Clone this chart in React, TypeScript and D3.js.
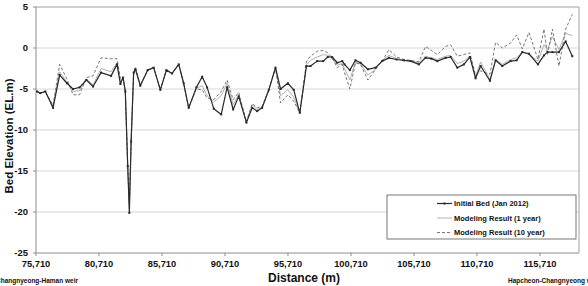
import React from "react";
import * as d3 from "d3";

const distance = [
  75790, 76050, 76450, 77060, 77590, 78170, 78650, 79170, 79710, 80240,
  80870, 81670, 82140, 82410, 82620, 82800, 82990, 83120, 83260, 83460,
  83600, 83990, 84570, 85050, 85580, 86060, 86510, 87040, 87430, 87830,
  88440, 88900, 89290, 89820, 90410, 90880, 91360, 91800, 92410, 92870,
  93260, 93660, 94190, 94720, 95120, 95700, 96170, 96650, 97180, 97500,
  98030, 98510, 98870, 99220, 99620, 100020, 100200, 100620, 101070, 101470,
  102050, 102660, 103190, 103720, 104330, 104910, 105440, 106100, 106630, 107090,
  107560, 108220, 108620, 109150, 109670, 110150, 110600, 111000, 111740, 112190,
  112720, 113380, 113860, 114310, 114840, 115550, 116030, 116310, 116700, 117220,
  117750, 118280,
];

const initialBed = [
  -5.3, -5.5, -5.3, -7.3, -3.3, -4.3, -5.0, -4.8, -3.9, -4.7,
  -3.0, -3.4, -2.0, -4.4, -3.6, -5.3, -14.4, -20.1, -11.4, -3.0,
  -2.6, -4.6, -2.7, -2.4, -5.1, -2.7, -3.1, -2.0, -4.3, -7.3,
  -4.8, -3.5, -4.8, -7.4, -8.1, -4.8, -7.5, -5.9, -9.1, -7.3,
  -7.7, -7.3, -5.1, -2.4, -5.0, -4.3, -5.1, -7.9, -2.2, -2.2,
  -1.6, -1.6, -1.1, -1.1, -1.8, -1.6, -2.0, -2.7, -1.5, -1.8,
  -2.6, -2.4, -1.6, -1.2, -1.4, -1.5, -1.6, -2.0, -1.2, -1.3,
  -1.6, -1.2, -1.1, -2.4, -2.0, -1.1, -3.7, -2.2, -4.0, -1.5,
  -2.2, -1.6, -1.5, -0.5, -0.7, -2.0, -0.9, -0.5, -0.5, -0.5,
  0.8, -1.0,
];

const model1yr = [
  -5.3, -5.5, -5.3, -7.1, -2.9, -4.2, -5.3, -5.2, -3.8, -4.5,
  -2.5, -2.9, -1.8, -4.1, -3.6, -5.3, -14.4, -19.6, -11.6, -3.0,
  -2.4, -4.5, -2.7, -2.4, -5.1, -2.7, -3.1, -2.0, -4.3, -7.3,
  -4.9, -4.6, -5.8, -6.6, -5.8, -4.3, -6.9, -5.7, -9.0, -6.9,
  -7.5, -7.2, -5.1, -2.4, -5.8, -5.1, -6.0, -7.9, -2.0, -1.5,
  -1.1, -0.8, -0.9, -1.3, -2.1, -1.9, -2.5, -3.9, -1.7, -1.9,
  -3.3, -2.6, -1.5, -0.9, -1.3, -1.5, -1.6, -1.8, -1.0, -1.2,
  -1.4, -1.0, -0.9, -1.9, -1.6, -1.0, -3.5, -1.7, -3.8, -1.4,
  -2.0, -1.4, -1.2, -0.5, -0.8, -1.6, 0.4, -0.2, 1.4, -0.2,
  1.8, 1.5,
];

const model10yr = [
  -5.3, -5.5, -5.3, -7.0, -2.0, -3.8, -5.7, -5.7, -3.6, -3.4,
  -1.2, -1.3, -1.3, -3.7, -3.6, -5.3, -14.6, -19.0, -11.4, -3.2,
  -2.3, -4.6, -2.7, -2.4, -5.1, -2.7, -3.1, -2.0, -4.3, -7.3,
  -5.0, -5.1, -6.1, -6.3, -5.3, -3.9, -6.3, -5.4, -9.0, -6.8,
  -7.3, -7.1, -5.1, -2.4, -6.7, -5.7, -6.5, -7.9, -1.6, -1.0,
  -0.4, -0.3, -0.6, -1.2, -2.4, -2.0, -3.0, -5.0, -1.8, -2.0,
  -3.9, -2.6, -1.6, -0.2, -1.1, -1.4, -1.5, -1.7, 0.2, -0.3,
  -0.8, 0.2, 0.4, -1.0, -0.8, -0.6, -3.3, -2.8, -3.2, 0.7,
  0.0, 0.6, 1.6, -0.1, 1.9, -1.4, 2.3, -0.8, 2.3, -2.2,
  2.3, 4.1,
];

const xTicks = [75710, 80710, 85710, 90710, 95710, 100710, 105710, 110710, 115710];
const yTicks = [5, 0, -5, -10, -15, -20, -25];
const legendLabels = ["Initial Bed (Jan 2012)", "Modeling Result (1 year)", "Modeling Result (10 year)"];

const W = 588;
const H = 286;
const margin = { left: 36, right: 9, top: 7, bottom: 33 };
const FONT = "'Liberation Sans', Arial, sans-serif";

export default function App() {
  const x = d3.scaleLinear().domain([75710, 118810]).range([margin.left, W - margin.right]);
  const y = d3.scaleLinear().domain([-25, 5]).range([H - margin.bottom, margin.top]);
  const fmt = d3.format(",");

  const mk = (vals: number[]) =>
    d3
      .line<number>()
      .x((_, i) => x(distance[i]))
      .y((v) => y(v))(vals) as string;

  const seriesStyles = [
    { vals: model1yr, stroke: "#a8a8a8", width: 0.9, dash: "" },
    { vals: model10yr, stroke: "#555", width: 0.8, dash: "3,2" },
    { vals: initialBed, stroke: "#2a2a2a", width: 1.2, dash: "" },
  ];

  const x0 = margin.left;
  const x1 = W - margin.right;
  const y0 = margin.top;
  const y1 = H - margin.bottom;

  const legX = 387;
  const legY = 195;
  const legW = 189;
  const legH = 44;

  return (
    <svg width={W} height={H} style={{ position: "absolute", left: 0, top: 0, background: "#fff" }} fontFamily={FONT}>
      {yTicks.filter((t) => t !== -25 && t !== 5).map((t) => (
        <line key={t} x1={x0} x2={x1} y1={y(t)} y2={y(t)} stroke="#d8d8d8" strokeWidth={1} />
      ))}
      <line x1={x0} x2={x1} y1={y0} y2={y0} stroke="#a0a0a0" strokeWidth={1} />
      <line x1={x1} x2={x1} y1={y0} y2={y1} stroke="#a0a0a0" strokeWidth={1} />
      <line x1={x0} x2={x1} y1={y1} y2={y1} stroke="#8c8c8c" strokeWidth={1} />
      <line x1={x0} x2={x0} y1={y0} y2={y1} stroke="#8c8c8c" strokeWidth={1} />
      {yTicks.map((t) => (
        <g key={t}>
          <line x1={x0 - 3} x2={x0} y1={y(t)} y2={y(t)} stroke="#8c8c8c" />
          <text x={x0 - 8} y={y(t)} dy="0.35em" textAnchor="end" fontSize={9.5} fontWeight="bold" fill="#111">
            {t}
          </text>
        </g>
      ))}
      {xTicks.map((t) => (
        <g key={t}>
          <line x1={x(t)} x2={x(t)} y1={y1} y2={y1 + 3} stroke="#8c8c8c" />
          <text x={x(t)} y={y1 + 13.5} textAnchor="middle" fontSize={9.3} fontWeight="bold" fill="#111">
            {fmt(t)}
          </text>
        </g>
      ))}
      {seriesStyles.map((s, i) => (
        <path key={i} d={mk(s.vals)} fill="none" stroke={s.stroke} strokeWidth={s.width} strokeDasharray={s.dash || undefined} strokeLinejoin="round" />
      ))}
      {initialBed.map((v, i) => (
        <rect key={i} x={x(distance[i]) - 1} y={y(v) - 1} width={2} height={2} fill="#2a2a2a" />
      ))}
      <text transform={`translate(13,${(y0 + y1) / 2 + 6}) rotate(-90)`} textAnchor="middle" fontSize={11.5} fontWeight="bold" fill="#111">
        Bed Elevation (EL.m)
      </text>
      <text x={304} y={282} textAnchor="middle" fontSize={12} fontWeight="bold" fill="#111">
        Distance (m)
      </text>
      <text x={-4} y={283} fontSize={6.5} fontWeight="bold" fill="#111">
        Changnyeong-Haman weir
      </text>
      <text x={508} y={283} fontSize={6.5} fontWeight="bold" fill="#111">
        Hapcheon-Changnyeong weir
      </text>
      <rect x={legX} y={legY} width={legW} height={legH} fill="#fff" stroke="#555" strokeWidth={0.8} />
      {legendLabels.map((lab, i) => {
        const ly = legY + 8.5 + i * 14.5;
        const st = [seriesStyles[2], seriesStyles[0], seriesStyles[1]][i];
        return (
          <g key={lab}>
            <line x1={legX + 50} x2={legX + 65} y1={ly} y2={ly} stroke={st.stroke} strokeWidth={st.width} strokeDasharray={st.dash || undefined} />
            {i === 0 && <rect x={legX + 56.5} y={ly - 1} width={2} height={2} fill="#2a2a2a" />}
            <text x={legX + 67} y={ly} dy="0.35em" fontSize={7.5} fontWeight="bold" fill="#111">
              {lab}
            </text>
          </g>
        );
      })}
    </svg>
  );
}
